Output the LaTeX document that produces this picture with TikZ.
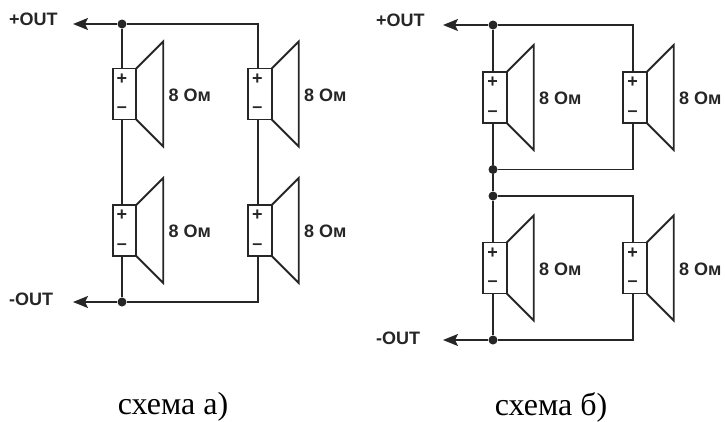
\documentclass[tikz,border=0pt]{standalone}
\usepackage{fontspec}
\setmainfont{Liberation Sans}
\newfontfamily\captionfont{Liberation Serif}
\usepackage{xcolor}
\definecolor{charcoal}{HTML}{262626}
\usepackage{tikz}
\usetikzlibrary{arrows.meta, positioning, calc}

\tikzset{
  wire/.style={line width=1.8pt, color=charcoal},
  outwire/.style={wire, -{Stealth[length=15pt, width=12pt, inset=3pt]}},
  dot/.style={circle, fill=charcoal, inner sep=0pt, minimum size=9pt},
  magnet/.style={draw=charcoal, line width=1.8pt, fill=white, inner sep=0pt, outer sep=0pt,
    minimum width=23.5pt, minimum height=51pt},
  pole/.style={font=\bfseries\fontsize{18}{18}\selectfont, color=charcoal, inner sep=0pt},
  ohms/.style={font=\bfseries\fontsize{18}{18}\selectfont, color=charcoal, inner sep=0pt, anchor=west},
  outlabel/.style={font=\bfseries\fontsize{18}{18}\selectfont, color=charcoal, inner sep=0pt, anchor=west},
  schemename/.style={font=\captionfont\fontsize{32}{34}\selectfont, color=black, inner sep=0pt}
}

\begin{document}
\begin{tikzpicture}[x=1pt, y=-1pt]
  \useasboundingbox (0,0) rectangle (725,421);

  % Speakers
  \foreach \name/\x/\y in {a1/124.5/94, a2/124.5/230.5, a3/260/94, a4/260/230.5,
                           b1/495/97.5, b2/635/97.5, b3/495/268, b4/635/268} {
    \node[magnet] (\name) at (\x,\y) {};
    \draw[wire, line join=miter] (\name.north east) -- ++(27,-27) -- ++(0,105) -- (\name.south east);
    \node[pole] (\name-plus) at (\x-2.5,\y-15) {+};
    \node[pole] (\name-minus) at (\x-2.5,\y+16) {--};
    \node[ohms] (\name-ohms) at (\x+44,\y+1) {8 Ом};
  }

  % Scheme a
  \node[dot] (atop) at (122,24) {};
  \node[dot] (abot) at (122,302) {};
  \coordinate (aplus) at (73,24);
  \coordinate (aminus) at (73,302);
  \coordinate (atopr) at (258,24);
  \coordinate (abotr) at (258,302);
  \node[outlabel] (aplustext) at (9,19) {+OUT};
  \node[outlabel] (aminustext) at (9,299) {-OUT};
  \draw[outwire] (atop) -- (aplus);
  \draw[outwire] (abot) -- (aminus);
  \draw[wire] (atop) -- (a1.north -| atop);
  \draw[wire] (a1.south -| atop) -- (a2.north -| atop);
  \draw[wire] (a2.south -| atop) -- (abot);
  \draw[wire] (atop) -- (atopr) -- (a3.north -| atopr);
  \draw[wire] (a3.south -| atopr) -- (a4.north -| atopr);
  \draw[wire] (a4.south -| atopr) -- (abotr) -- (abot);

  % Scheme b
  \node[dot] (btop) at (493,25) {};
  \node[dot] (bmidu) at (493,169.5) {};
  \node[dot] (bmidl) at (493,196) {};
  \node[dot] (bbot) at (493,340) {};
  \coordinate (bplus) at (443,25);
  \coordinate (bminus) at (443,340);
  \coordinate (btopr) at (633,25);
  \coordinate (bmidur) at (633,169.5);
  \coordinate (bmidlr) at (633,196);
  \coordinate (bbotr) at (633,340);
  \node[outlabel] (bplustext) at (376,20) {+OUT};
  \node[outlabel] (bminustext) at (376,338) {-OUT};
  \draw[outwire] (btop) -- (bplus);
  \draw[outwire] (bbot) -- (bminus);
  \draw[wire] (btop) -- (b1.north -| btop);
  \draw[wire] (b1.south -| btop) -- (bmidu);
  \draw[wire] (bmidu) -- (bmidl);
  \draw[wire] (bmidl) -- (b3.north -| btop);
  \draw[wire] (b3.south -| btop) -- (bbot);
  \draw[wire] (btop) -- (btopr) -- (b2.north -| btopr);
  \draw[wire] (b2.south -| btopr) -- (bmidur) -- (bmidu);
  \draw[wire] (bmidl) -- (bmidlr) -- (b4.north -| bmidlr);
  \draw[wire] (b4.south -| bmidlr) -- (bbotr) -- (bbot);

  % Captions
  \node[schemename] (acaption) at (173,407) {схема а)};
  \node[schemename] (bcaption) at (551,407) {схема б)};
\end{tikzpicture}
\end{document}
